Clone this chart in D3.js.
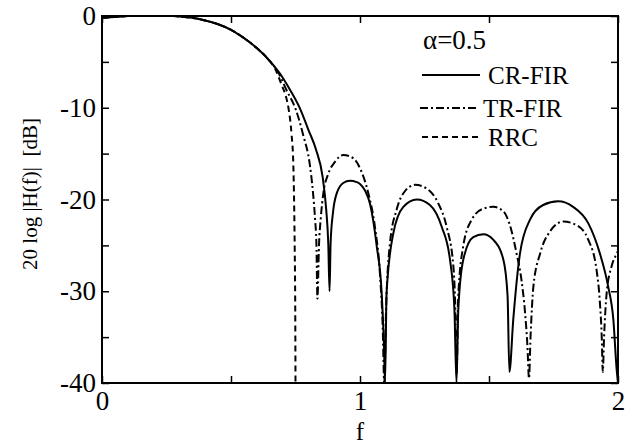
<!DOCTYPE html>
<html><head><meta charset="utf-8">
<script src="https://cdn.jsdelivr.net/npm/d3@7"></script>
<style>body{margin:0;background:#fff}svg{display:block}</style>
</head><body>
<script>
// shared passband (f, dB)
const passF  = [0, 0.05, 0.1, 0.15, 0.2, 0.25, 0.3, 0.35, 0.4, 0.45, 0.5, 0.55, 0.6, 0.65];
const passDb = [-0.2, -0.1, 0, 0.05, 0.1, 0.05, -0.05, -0.2, -0.5, -0.9, -1.5, -2.4, -3.5, -4.9];

const crF  = [0.7, 0.732, 0.77, 0.8, 0.83, 0.855, 0.869, 0.877, 0.882, 0.886, 0.895, 0.91, 0.935, 0.961, 0.987, 1.0, 1.019, 1.039, 1.065, 1.084, 1.093, 1.097, 1.103, 1.129, 1.168, 1.22, 1.271, 1.317, 1.349, 1.366, 1.374, 1.381, 1.4, 1.439, 1.478, 1.517, 1.556, 1.572, 1.579, 1.594, 1.62, 1.659, 1.71, 1.768, 1.826, 1.885, 1.93, 1.962, 1.982, 1.995, 2.0];
const crDb = [-6.7, -8.2, -10.25, -12.4, -14.6, -17.5, -21.1, -24.8, -30, -24.8, -21.5, -19.3, -18.2, -17.95, -18.1, -18.3, -19.0, -20.5, -25.1, -30.2, -36, -40, -30.2, -23.7, -20.8, -20.0, -20.6, -23.0, -26.6, -32, -40, -32, -26.6, -24.1, -23.8, -24.4, -26.6, -30.5, -38.8, -33.1, -25.9, -22.2, -20.6, -20.2, -20.8, -22.6, -25.9, -29.5, -33.1, -38.6, -40];

const trF  = [0.68, 0.715, 0.752, 0.78, 0.805, 0.818, 0.826, 0.831, 0.835, 0.841, 0.848, 0.858, 0.877, 0.903, 0.935, 0.974, 1.0, 1.032, 1.058, 1.078, 1.088, 1.094, 1.101, 1.116, 1.142, 1.174, 1.213, 1.258, 1.303, 1.336, 1.362, 1.37, 1.375, 1.38, 1.4, 1.433, 1.478, 1.517, 1.556, 1.581, 1.607, 1.626, 1.64, 1.649, 1.655, 1.661, 1.672, 1.698, 1.736, 1.788, 1.84, 1.885, 1.917, 1.93, 1.937, 1.941, 1.946, 1.956, 1.975, 1.995, 2.0];
const trDb = [-6.0, -8.07, -10.25, -13.0, -16.1, -19.3, -22.2, -24.8, -30.8, -25, -22, -19.3, -17.2, -15.9, -15.15, -15.5, -16.6, -19.3, -23.0, -28.4, -33.9, -40, -32, -24.8, -21.1, -19.1, -18.4, -18.8, -20.4, -23.0, -27.3, -32.4, -39, -31, -25.1, -22.2, -21.0, -20.8, -21.3, -22.8, -25.9, -28.8, -32.4, -36.0, -39.5, -35, -29.5, -25.9, -23.5, -22.4, -22.8, -24.4, -27.7, -31.3, -35, -38.8, -35, -30.2, -27.3, -25.9, -25.6];

const rrcF  = [0.67, 0.696, 0.715, 0.724, 0.735, 0.741, 0.745, 0.747, 0.749, 0.75];
const rrcDb = [-5.7, -7.5, -9.0, -10.25, -13.0, -15.7, -21, -25.5, -32, -40];

const xTicks = [0, 0.5, 1, 1.5, 2];
const xLabels = ["0", "", "1", "", "2"];
const yTicks = [0, -5, -10, -15, -20, -25, -30, -35, -40];
const yLabels = ["0", "", "-10", "", "-20", "", "-30", "", "-40"];
const legendNames = ["CR-FIR", "TR-FIR", "RRC"];
const legendTitle = "α=0.5";

const W = 644, H = 445;
const m = {l: 102, r: 618, t: 16, b: 383};
const x = d3.scaleLinear().domain([0, 2]).range([m.l, m.r]);
const y = d3.scaleLinear().domain([-40, 0]).range([m.b, m.t]);

const svg = d3.select("body").append("svg").attr("width", W).attr("height", H)
  .style("font-family", "'Liberation Serif', 'Times New Roman', serif");

svg.append("defs").append("clipPath").attr("id", "clip")
  .append("rect").attr("x", m.l).attr("y", m.t).attr("width", m.r - m.l).attr("height", m.b - m.t);

const zip = (a, b) => a.map((v, i) => [v, b[i]]);
const pass = zip(passF, passDb);
const series = [
  {pts: pass.concat(zip(crF, crDb)), dash: null},
  {pts: pass.concat(zip(trF, trDb)), dash: "8,3,2,3"},
  {pts: pass.concat(zip(rrcF, rrcDb)), dash: "6,4"}
];
const line = d3.line().x(d => x(d[0])).y(d => y(d[1])).curve(d3.curveMonotoneX);
const g = svg.append("g").attr("clip-path", "url(#clip)");
series.forEach(s => {
  g.append("path").attr("d", line(s.pts)).attr("fill", "none").attr("stroke", "#000")
    .attr("stroke-width", 2).attr("stroke-dasharray", s.dash);
});

// axes with inward ticks
const tl = 7;
const axB = svg.append("g").attr("transform", `translate(0,${m.b})`)
  .call(d3.axisBottom(x).tickValues(xTicks).tickSize(-tl).tickPadding(8).tickFormat((d, i) => xLabels[i]));
const axT = svg.append("g").attr("transform", `translate(0,${m.t})`)
  .call(d3.axisTop(x).tickValues(xTicks).tickSize(-tl).tickFormat(""));
const axL = svg.append("g").attr("transform", `translate(${m.l},0)`)
  .call(d3.axisLeft(y).tickValues(yTicks).tickSize(-tl).tickPadding(6).tickFormat((d, i) => yLabels[i]));
const axR = svg.append("g").attr("transform", `translate(${m.r},0)`)
  .call(d3.axisRight(y).tickValues(yTicks).tickSize(-tl).tickFormat(""));
[axB, axT, axL, axR].forEach(a => {
  a.select(".domain").remove();
  a.selectAll("line").attr("stroke", "#000").attr("stroke-width", 1.5);
  a.selectAll("text").attr("fill", "#000").style("font-size", "27px").style("font-family", "'Liberation Serif', serif");
});
svg.append("rect").attr("x", m.l).attr("y", m.t).attr("width", m.r - m.l).attr("height", m.b - m.t)
  .attr("fill", "none").attr("stroke", "#000").attr("stroke-width", 2);

// axis labels
svg.append("text").attr("x", (m.l + m.r) / 2).attr("y", 440).attr("text-anchor", "middle")
  .style("font-size", "25px").text("f");
svg.append("text").attr("transform", `translate(37,194) rotate(-90)`)
  .attr("text-anchor", "middle").style("font-size", "21px").attr("xml:space", "preserve")
  .text("20 log |H(f)|  [dB]");

// legend
svg.append("text").attr("x", 423).attr("y", 49).style("font-size", "27px").text(legendTitle);
const legY = [75, 108, 137];
const legX1 = [422, 420, 422], legX2 = [480, 477, 480], legTX = [488, 483, 488];
legendNames.forEach((n, i) => {
  svg.append("line").attr("x1", legX1[i]).attr("x2", legX2[i]).attr("y1", legY[i]).attr("y2", legY[i])
    .attr("stroke", "#000").attr("stroke-width", 2).attr("stroke-dasharray", series[i].dash);
  svg.append("text").attr("x", legTX[i]).attr("y", legY[i] + 9).style("font-size", "25px").text(n);
});
</script>
</body></html>
